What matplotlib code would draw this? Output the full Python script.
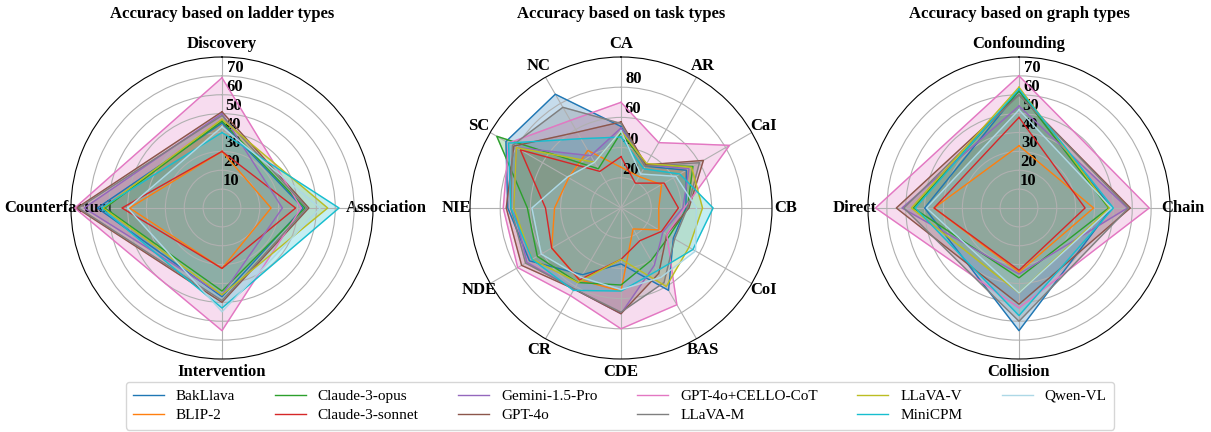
"""Radar charts of model accuracy by ladder, task and graph type"""
import matplotlib
matplotlib.use("Agg")
import matplotlib.pyplot as plt
import numpy as np

plt.rcParams['font.family'] = ['Liberation Serif', 'DejaVu Serif']

models = ['BakLlava', 'BLIP-2', 'Claude-3-opus', 'Claude-3-sonnet', 'Gemini-1.5-Pro',
          'GPT-4o', 'GPT-4o+CELLO-CoT', 'LLaVA-M', 'LLaVA-V', 'MiniCPM', 'Qwen-VL']
colors = ['#1f77b4', '#ff7f0e', '#2ca02c', '#d62728', '#9467bd',
          '#8c564b', '#e377c2', '#7f7f7f', '#bcbd22', '#17becf', '#add8e6']

ladder_types = ['Discovery', 'Association', 'Intervention', 'Counterfactual']
ladder_acc = [
    [45, 43, 47, 66],
    [30, 26, 32, 49],
    [46, 44, 44, 62],
    [30, 39, 32, 53],
    [50, 32, 46, 73],
    [51, 46, 50, 77],
    [69, 42, 65, 78],
    [49, 45, 49, 76],
    [47, 56, 46, 63],
    [40, 62, 53, 64],
    [43, 52, 55, 50],
]

task_types = ['CA', 'AR', 'CaI', 'CB', 'CoI', 'BAS', 'CDE', 'CR', 'NDE', 'NIE', 'SC', 'NC']
task_acc = [
    [54, 32, 50, 43, 40, 63, 37, 51, 70, 75, 88, 87],
    [27, 24, 31, 25, 29, 16, 55, 55, 53, 44, 40, 44],
    [50, 33, 55, 44, 37, 40, 51, 57, 64, 62, 95, 30],
    [34, 19, 33, 38, 31, 25, 34, 55, 53, 50, 77, 28],
    [53, 33, 52, 41, 32, 44, 70, 62, 72, 71, 80, 40],
    [57, 33, 63, 45, 35, 50, 70, 62, 76, 76, 82, 58],
    [70, 50, 83, 42, 35, 74, 80, 67, 79, 78, 86, 67],
    [56, 32, 60, 44, 41, 57, 69, 62, 73, 73, 83, 77],
    [51, 34, 54, 54, 52, 60, 34, 57, 68, 71, 80, 35],
    [47, 30, 45, 61, 55, 48, 55, 63, 68, 73, 86, 53],
    [51, 26, 42, 50, 57, 53, 54, 53, 61, 59, 41, 35],
]

graph_types = ['Confounding', 'Chain', 'Collision', 'Direct']
graph_acc = [
    [62, 49, 65, 50],
    [33, 39.5, 34, 45],
    [62, 47.5, 37, 56],
    [48, 35, 33, 45],
    [54, 57.5, 35, 62],
    [60, 59, 51, 65],
    [70, 69, 53, 76],
    [60, 58, 60, 61],
    [64, 48, 45, 57],
    [63, 50, 57, 55],
    [52, 49, 45, 49],
]


def radar(ax, cats, data, title, rmax, rticks):
    n = len(cats)
    angles = np.linspace(0, 2 * np.pi, n, endpoint=False).tolist()
    angles += angles[:1]
    ax.set_theta_offset(np.pi / 2)
    ax.set_theta_direction(-1)
    for name, vals, c in zip(models, data, colors):
        v = list(vals) + [vals[0]]
        ax.plot(angles, v, color=c, linewidth=1, label=name)
        ax.fill(angles, v, color=c, alpha=0.25)
    ax.set_xticks(angles[:-1])
    ax.set_xticklabels(cats, fontsize=12, fontweight='bold')
    ax.set_ylim(0, rmax)
    ax.set_yticks(rticks)
    ax.set_yticklabels([str(t) for t in rticks], fontsize=12, fontweight='bold')
    ax.set_rlabel_position(2)
    ax.tick_params(axis='x', pad=-1)
    ax.set_title(title, fontsize=12, fontweight='bold', pad=28)


def main():
    fig = plt.figure(figsize=(12.11, 4.32), dpi=100)
    w, h = 302 / 1211, 302 / 432
    bottom = (432 - 208 - 151) / 432
    ax1 = fig.add_axes([(222 - 151) / 1211, bottom, w, h], polar=True)
    ax2 = fig.add_axes([(621 - 151) / 1211, bottom, w, h], polar=True)
    ax3 = fig.add_axes([(1019 - 151) / 1211, bottom, w, h], polar=True)

    radar(ax1, ladder_types, ladder_acc, 'Accuracy based on ladder types', 80, range(10, 80, 10))
    radar(ax2, task_types, task_acc, 'Accuracy based on task types', 100, range(20, 100, 20))
    radar(ax3, graph_types, graph_acc, 'Accuracy based on graph types', 80, range(10, 80, 10))

    handles, labels = ax1.get_legend_handles_labels()
    fig.legend(handles, labels, loc='lower center', ncol=6, fontsize=11,
               columnspacing=2.6, labelspacing=0.35, borderpad=0.5,
               bbox_to_anchor=(0.512, -0.012))

    fig.savefig('out.png', dpi=100)
    plt.close(fig)


if __name__ == "__main__":
    main()
